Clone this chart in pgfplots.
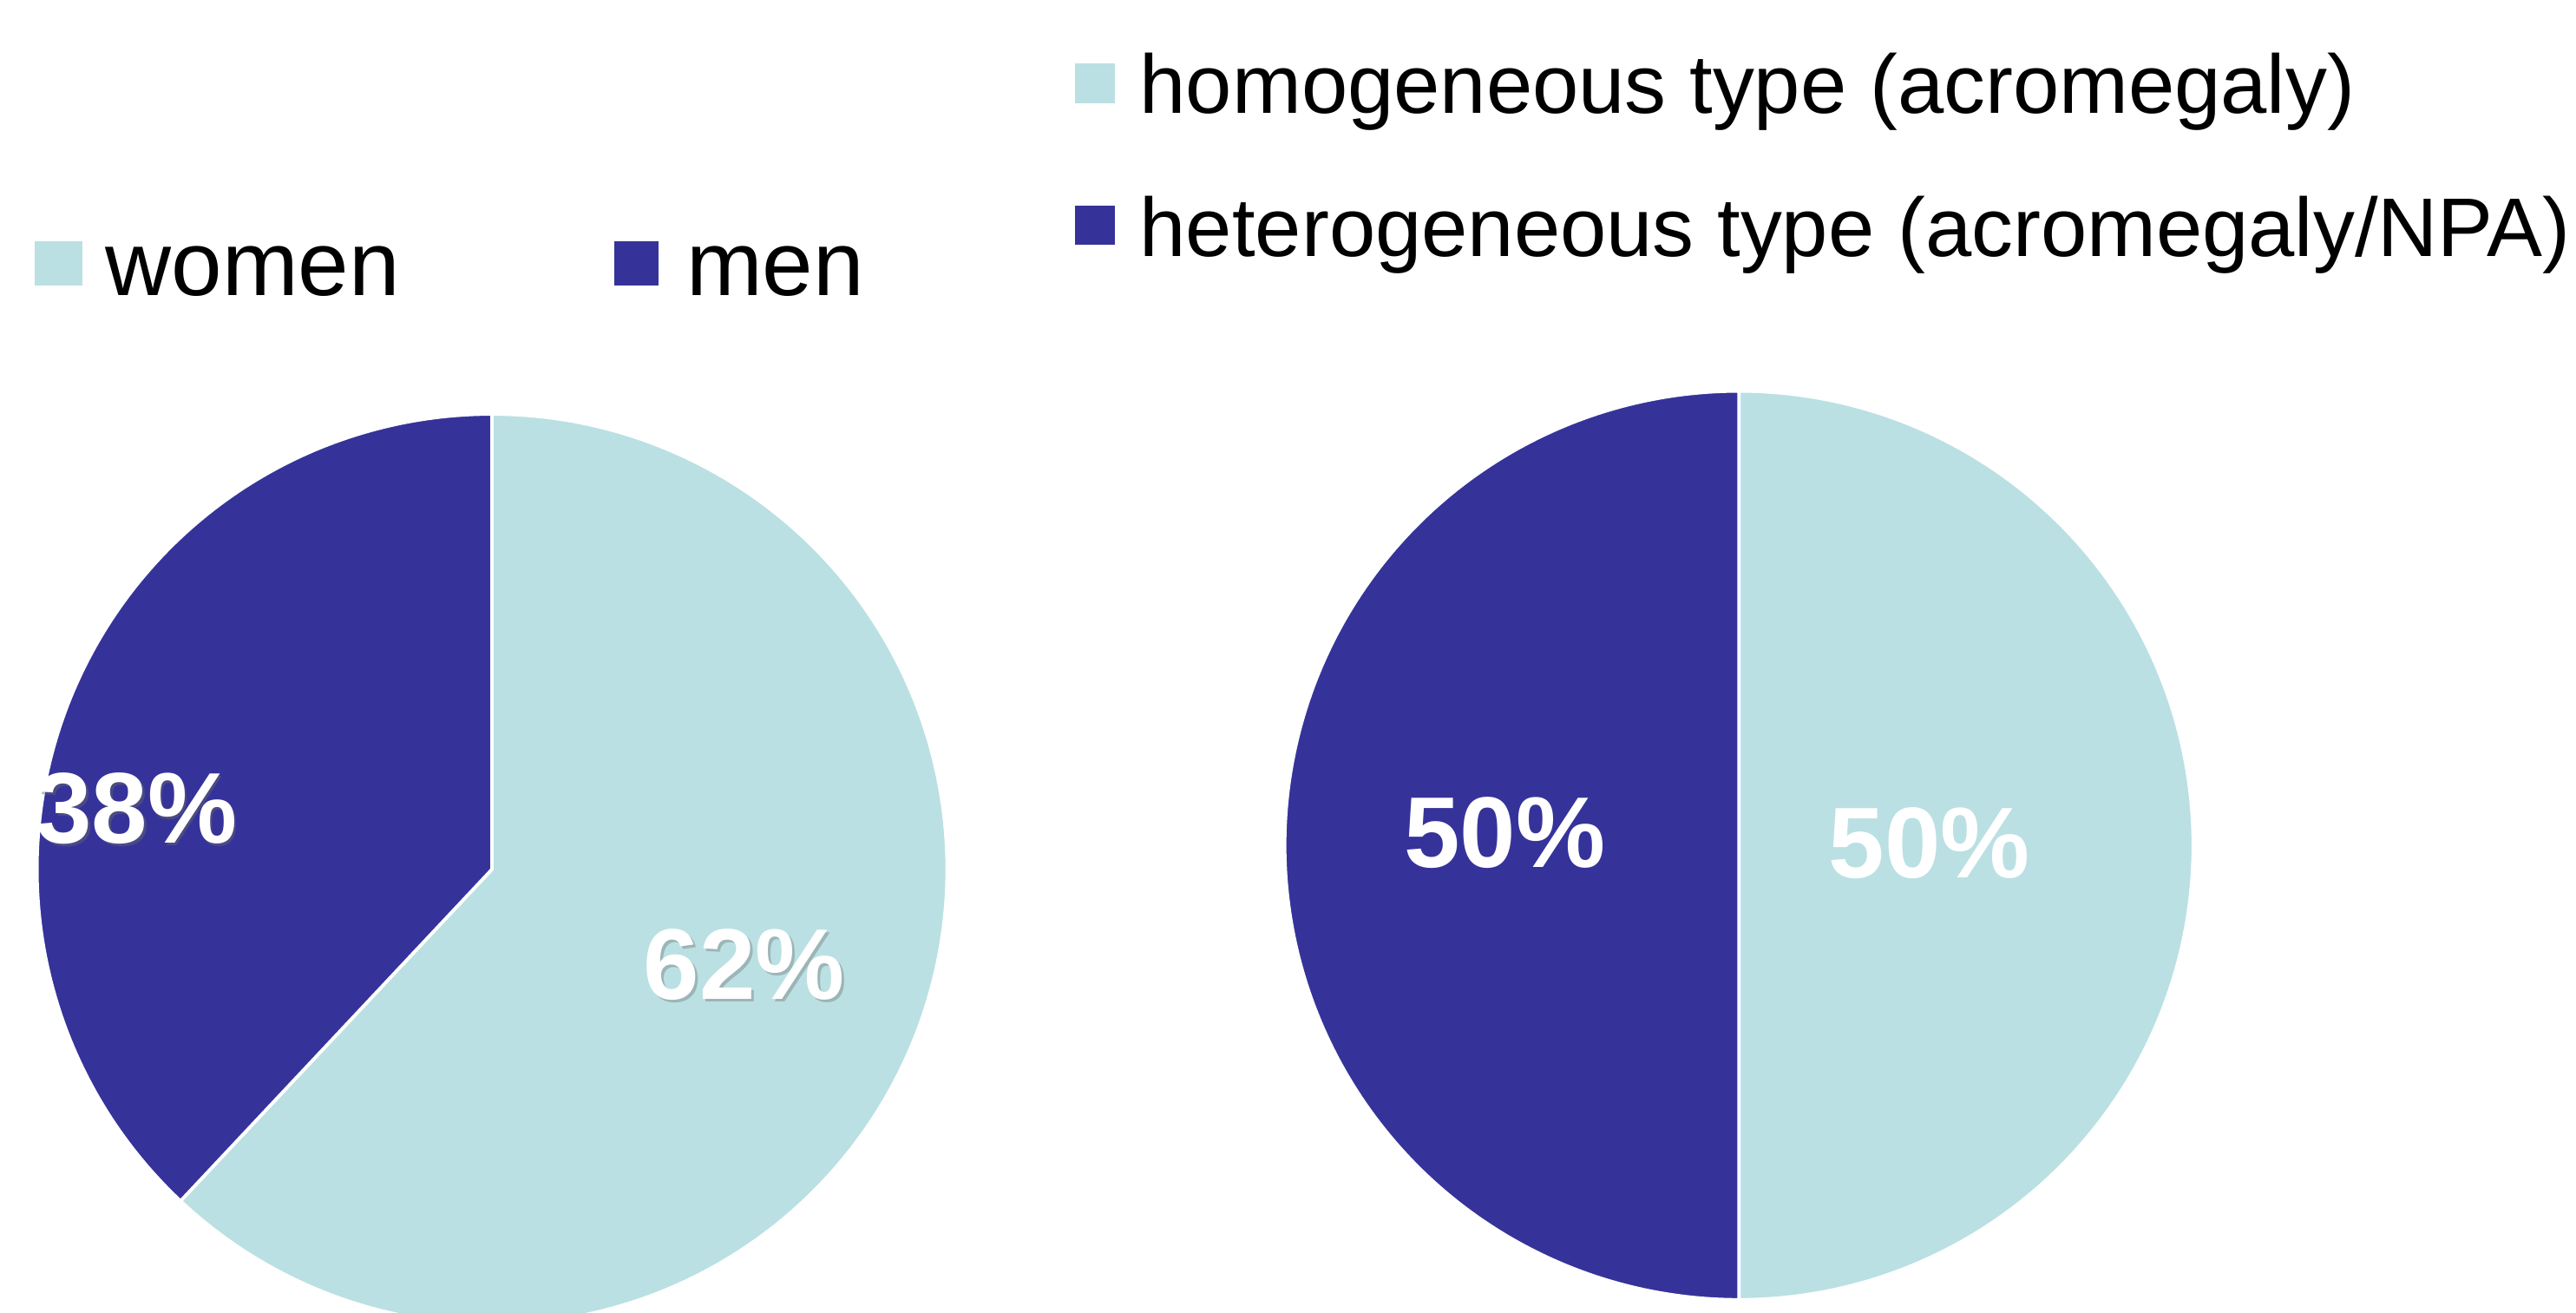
\documentclass[border=0pt]{standalone}
\usepackage{fontspec}
\setmainfont{Liberation Sans}
\usepackage{pgfplots}
\pgfplotsset{compat=1.18}
\definecolor{lightc}{HTML}{BAE0E3}
\definecolor{darkc}{HTML}{35339A}
% data (percent)
\def\pWomen{62}
\def\pMen{38}
\def\pHom{50}
\def\pHet{50}
\begin{document}
\begin{tikzpicture}
\pgfmathsetmacro\aW{90-3.6*\pWomen}
\pgfmathsetmacro\aM{\aW-3.6*\pMen}
\pgfmathsetmacro\aH{90-3.6*\pHom}
\pgfmathsetmacro\aT{\aH-3.6*\pHet}
\begin{axis}[scale only axis, width=392pt, height=199.75pt,
  xmin=0, xmax=1568, ymin=0, ymax=799, y dir=reverse, hide axis, clip=true]
% left pie
\addplot[fill=lightc, draw=white, line width=0.5pt, domain=90:\aW, samples=200, variable=\t]
  ({299.5+277*cos(\t)},{529-277*sin(\t)}) -- (axis cs:299.5,529) -- cycle;
\addplot[fill=darkc, draw=white, line width=0.5pt, domain=\aW:\aM, samples=150, variable=\t]
  ({299.5+277*cos(\t)},{529-277*sin(\t)}) -- (axis cs:299.5,529) -- cycle;
% right pie
\addplot[fill=lightc, draw=white, line width=0.5pt, domain=90:\aH, samples=180, variable=\t]
  ({1058.5+276.5*cos(\t)},{514.5-276.5*sin(\t)}) -- (axis cs:1058.5,514.5) -- cycle;
\addplot[fill=darkc, draw=white, line width=0.5pt, domain=\aH:\aT, samples=180, variable=\t]
  ({1058.5+276.5*cos(\t)},{514.5-276.5*sin(\t)}) -- (axis cs:1058.5,514.5) -- cycle;
% percent labels
\node[text=black!60, opacity=0.45, font=\fontsize{15.3pt}{18pt}\selectfont\bfseries, inner sep=0] at (axis cs:84.5,493.5) {38\%};
\node[text=white, font=\fontsize{15.3pt}{18pt}\selectfont\bfseries, inner sep=0] at (axis cs:83,492) {38\%};
\node[text=black!60, opacity=0.35, font=\fontsize{15.3pt}{18pt}\selectfont\bfseries, inner sep=0] at (axis cs:454.5,588.5) {62\%};
\node[text=white, font=\fontsize{15.3pt}{18pt}\selectfont\bfseries, inner sep=0] at (axis cs:453,587) {62\%};
\node[text=white, font=\fontsize{15.3pt}{18pt}\selectfont\bfseries, inner sep=0] at (axis cs:916,507) {50\%};
\node[text=white, font=\fontsize{15.3pt}{18pt}\selectfont\bfseries, inner sep=0] at (axis cs:1174.5,513) {50\%};
% left legend
\fill[lightc] (axis cs:21,147) rectangle (axis cs:50,174);
\node[anchor=base west, inner sep=0, font=\fontsize{13.9pt}{16pt}\selectfont] at (axis cs:63.5,179.6) {women};
\fill[darkc] (axis cs:374,147) rectangle (axis cs:401,174);
\node[anchor=base west, inner sep=0, font=\fontsize{13.9pt}{16pt}\selectfont] at (axis cs:417,179.6) {men};
% right legend
\fill[lightc] (axis cs:654.6,38.7) rectangle (axis cs:678.6,63);
\node[anchor=base west, inner sep=0, font=\fontsize{12.65pt}{15pt}\selectfont] at (axis cs:693,68.7) {homogeneous type (acromegaly)};
\fill[darkc] (axis cs:654.6,125) rectangle (axis cs:678.6,149);
\node[anchor=base west, inner sep=0, font=\fontsize{12.65pt}{15pt}\selectfont] at (axis cs:693,156) {heterogeneous type (acromegaly/NPA)};
\end{axis}
\pgfresetboundingbox
\useasboundingbox (current axis.south west) rectangle (current axis.north east);
\end{tikzpicture}
\end{document}
